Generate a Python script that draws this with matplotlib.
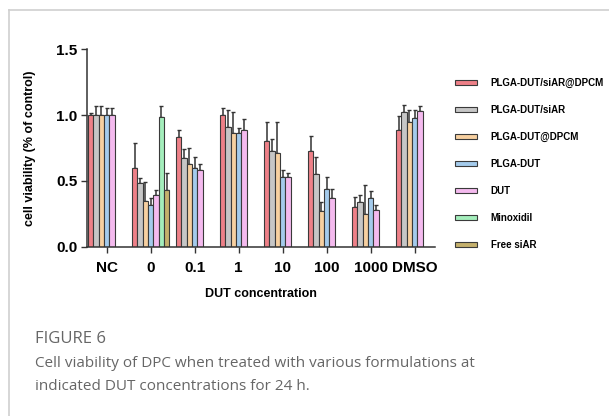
import numpy as np
import matplotlib.pyplot as plt
from matplotlib.lines import Line2D

# --- data ---
groups = ["NC", "0", "0.1", "1", "10", "100", "1000", "DMSO"]
series_names = ["PLGA-DUT/siAR@DPCM", "PLGA-DUT/siAR", "PLGA-DUT@DPCM",
                "PLGA-DUT", "DUT", "Minoxidil", "Free siAR"]
nan = np.nan

plga_dut_siar_dpcm = [1.00, 0.60, 0.83, 1.00, 0.80, 0.73, 0.30, 0.89]
plga_dut_siar = [1.00, 0.48, 0.67, 0.91, 0.73, 0.55, 0.34, 1.02]
plga_dut_dpcm = [1.00, 0.35, 0.63, 0.86, 0.71, 0.27, 0.25, 0.95]
plga_dut = [1.00, 0.32, 0.60, 0.86, 0.53, 0.44, 0.37, 0.98]
dut = [1.00, 0.39, 0.58, 0.89, 0.53, 0.37, 0.28, 1.03]
minoxidil = [nan, 0.985, nan, nan, nan, nan, nan, nan]
free_siar = [nan, 0.43, nan, nan, nan, nan, nan, nan]

# upper error (SD)
err_siar_dpcm = [0.015, 0.19, 0.06, 0.05, 0.15, 0.11, 0.08, 0.10]
err_siar = [0.07, 0.04, 0.07, 0.13, 0.09, 0.13, 0.05, 0.06]
err_dpcm = [0.07, 0.14, 0.12, 0.16, 0.24, 0.07, 0.22, 0.09]
err_plga_dut = [0.05, 0.05, 0.08, 0.04, 0.05, 0.09, 0.05, 0.06]
err_dut = [0.05, 0.04, 0.05, 0.08, 0.03, 0.07, 0.04, 0.04]
err_minoxidil = [nan, 0.085, nan, nan, nan, nan, nan, nan]
err_free_siar = [nan, 0.13, nan, nan, nan, nan, nan, nan]

values = [plga_dut_siar_dpcm, plga_dut_siar, plga_dut_dpcm, plga_dut, dut, minoxidil, free_siar]
errors = [err_siar_dpcm, err_siar, err_dpcm, err_plga_dut, err_dut, err_minoxidil, err_free_siar]
colors = ["#ee8088", "#c6c6c6", "#f7d0a0", "#a4cbec", "#f4baee", "#a4eebc", "#c4b06c"]

plt.rcParams['font.family'] = ['Liberation Sans', 'DejaVu Sans']

fig = plt.figure(figsize=(6.09, 4.16), dpi=100)
ax = fig.add_axes([0.1434, 0.407, 0.5706, 0.4747])

x = np.arange(len(groups))
w = 0.12
for j, (vals, errs, c, name) in enumerate(zip(values, errors, colors, series_names)):
    pos = x + (j - 3) * w
    ax.bar(pos, vals, width=w, color=c, edgecolor="#3a3a3a", linewidth=0.8, label=name, zorder=2)
    ax.errorbar(pos, vals, yerr=[np.zeros(len(errs)), errs], fmt="none",
                ecolor="#333333", elinewidth=1.1, capsize=1.2, capthick=1.0, zorder=1)

ax.set_xlim(-0.44, 7.46)
ax.set_ylim(0, 1.5)
ax.set_yticks([0, 0.5, 1.0, 1.5])
ax.set_yticklabels(["0.0", "0.5", "1.0", "1.5"], fontsize=11, fontweight="bold")
ax.set_xticks(x)
ax.set_xticklabels(groups, fontsize=11, fontweight="bold")
ax.tick_params(axis="both", direction="out", length=4, width=1, color="#333333", pad=3)
ax.tick_params(axis="x", pad=6)
for side in ["top", "right"]:
    ax.spines[side].set_visible(False)
for side in ["left", "bottom"]:
    ax.spines[side].set_linewidth(1.1)
    ax.spines[side].set_color("#333333")

ax.set_ylabel("cell viability (% of control)", fontsize=9, fontweight="bold", labelpad=15)
ax.set_xlabel("DUT concentration", fontsize=9, fontweight="bold", labelpad=10)

leg = fig.legend(loc="upper left", bbox_to_anchor=(0.740, 0.822), frameon=False,
                 prop={"size": 7, "weight": "bold"}, handlelength=2.35, handleheight=0.43,
                 labelspacing=1.74, handletextpad=1.35, borderaxespad=0)

# figure frame (top and left rules)
fig.add_artist(Line2D([9 / 609, 1], [1 - 9.5 / 416] * 2, color="#cfcfcf", lw=1.2))
fig.add_artist(Line2D([9 / 609] * 2, [0, 1 - 9.5 / 416], color="#cfcfcf", lw=1.2))

cap_font = ['Open Sans', 'DejaVu Sans']
fig.text(35 / 609, 1 - 343 / 416, "FIGURE 6", fontsize=12, color="#666666",
         family=cap_font, va="baseline")
fig.text(35 / 609, 1 - 367 / 416,
         "Cell viability of DPC when treated with various formulations at",
         fontsize=11, color="#666666", family=cap_font, va="baseline")
fig.text(35 / 609, 1 - 390 / 416, "indicated DUT concentrations for 24 h.",
         fontsize=11, color="#666666", family=cap_font, va="baseline")

fig.savefig("out.png", dpi=100)
